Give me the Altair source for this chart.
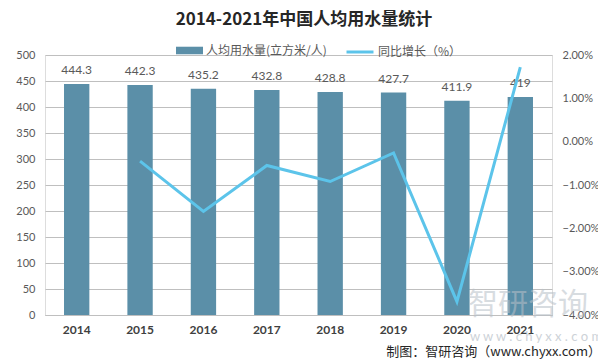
import altair as alt
import pandas as pd

years = ["2014", "2015", "2016", "2017", "2018", "2019", "2020", "2021"]
water = [444.3, 442.3, 435.2, 432.8, 428.8, 427.7, 411.9, 419]
growth = [None, -0.0045, -0.0161, -0.0055, -0.0092, -0.0026, -0.0369, 0.0172]
left_ticks = [0, 50, 100, 150, 200, 250, 300, 350, 400, 450, 500]
right_ticks = [-0.04, -0.03, -0.02, -0.01, 0, 0.01, 0.02]
bar_name = "人均用水量(立方米/人)"
line_name = "同比增长（%）"
title_text = "2014-2021年中国人均用水量统计"
footer_text = "制图：智研咨询（www.chyxx.com）"

df = pd.DataFrame({
    "year": years,
    "water": water,
    "growth": growth,
    "s1": [bar_name] * len(years),
    "s2": [line_name] * len(years),
})

FONT = "Lato"
CJK = "Noto Sans CJK SC"
BAR_C = "#5B8FA8"
LINE_C = "#5CC4EA"
GRID_C = "#BFBFBF"

x = alt.X("year:N", sort=years, title=None,
          scale=alt.Scale(paddingInner=0.6, paddingOuter=0.3),
          axis=alt.Axis(labelAngle=0, labelFont=FONT, labelFontWeight="bold",
                        labelFontSize=12, labelColor="#404040", labelPadding=9,
                        ticks=False, domainColor=GRID_C, domainWidth=1))

yscale = alt.Scale(domain=[0, 500], nice=False)
yl = alt.Y("water:Q", title=None, scale=yscale,
           axis=alt.Axis(values=left_ticks, labelFont=FONT,
                         labelFontSize=11, labelColor="#595959", labelPadding=10,
                         labelOverlap=False, ticks=False, domain=False,
                         grid=True, gridColor=GRID_C, gridWidth=1, gridOpacity=1))

left_base = alt.Chart(df).encode(x=x, y=yl)

bars = left_base.mark_bar(color=BAR_C).encode(
    fill=alt.Fill("s1:N", scale=alt.Scale(range=[BAR_C]),
                  legend=alt.Legend(orient="none", legendX=131, legendY=-18,
                                    title=None, labelFont=CJK, labelFontSize=12,
                                    labelColor="#595959",
                                    symbolType="M-1,-0.28L1,-0.28L1,0.28L-1,0.28Z",
                                    symbolSize=729, symbolStrokeWidth=0, labelOffset=3)),
)

labels = left_base.mark_text(baseline="bottom", dy=-7, font=FONT, fontSize=12,
                             color="#595959").encode(text=alt.Text("water:Q"))

left = alt.layer(bars, labels)

line = alt.Chart(df).mark_line(strokeWidth=3).encode(
    x=x,
    y=alt.Y("growth:Q", title=None,
            scale=alt.Scale(domain=[-0.04, 0.02], nice=False),
            axis=alt.Axis(orient="right", format=".2%", values=right_ticks,
                          labelFont=FONT, labelFontSize=11, labelColor="#595959",
                          labelPadding=10, ticks=False, domain=False, grid=False)),
    stroke=alt.Stroke("s2:N", scale=alt.Scale(range=[LINE_C]),
                      legend=alt.Legend(orient="none", legendX=300, legendY=-18,
                                        title=None, labelFont=CJK, labelFontSize=12,
                                        labelColor="#595959", symbolType="stroke",
                                        symbolStrokeWidth=3, symbolSize=729,
                                        labelOffset=3)),
)

ttl = pd.DataFrame({"t": [title_text]})
title = alt.Chart(ttl).mark_text(align="center", baseline="middle", font=CJK,
                                 fontSize=17, fontWeight="bold", color="#262626").encode(
    x=alt.value(259), y=alt.value(-35), text="t:N")

note = pd.DataFrame({"t": [footer_text]})
footer = alt.Chart(note).mark_text(align="right", baseline="middle", font=CJK,
                                   fontSize=13, color="#262626").encode(
    x=alt.value(556), y=alt.value(297), text="t:N")

wm = pd.DataFrame({"t": ["智研咨询"]})
watermark = alt.Chart(wm).mark_text(align="left", baseline="middle", font=CJK,
                                    fontSize=30, color="#B8C0C8", opacity=0.55).encode(
    x=alt.value(423), y=alt.value(250), text="t:N")
wm2 = pd.DataFrame({"t": ["w w w . c h y x x . c o m"]})
watermark2 = alt.Chart(wm2).mark_text(align="left", baseline="middle", font=FONT,
                                      fontSize=13, color="#B8C0C8", opacity=0.7).encode(
    x=alt.value(425), y=alt.value(282), text="t:N")

chart = alt.layer(left, line, watermark, watermark2, title, footer).resolve_scale(
    y="independent", fill="independent", stroke="independent"
).properties(
    width=507, height=260,
    autosize=alt.AutoSizeParams(type="none"),
    padding={"left": 37, "top": 47, "right": 46, "bottom": 49},
).configure_view(stroke=None).configure(background="white")

chart.save("out.html", embed_options={"renderer": "svg", "actions": False})
